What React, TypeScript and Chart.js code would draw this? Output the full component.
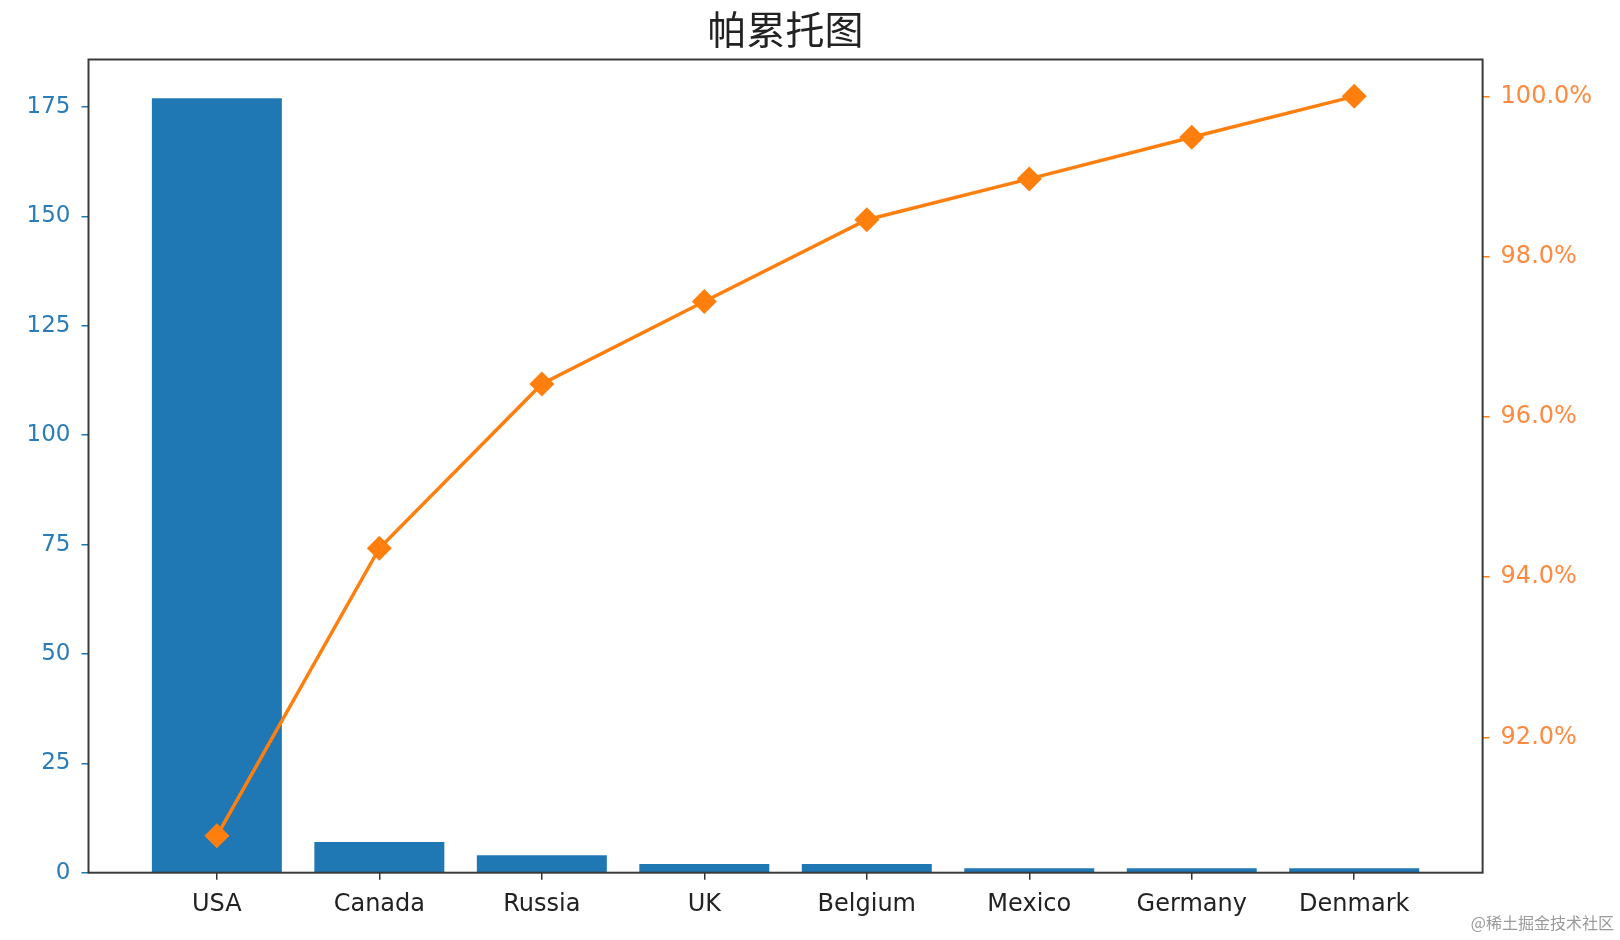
import React, { useEffect, useRef } from "react";
import { Chart, registerables } from "chart.js";

Chart.register(...registerables);

const title = "帕累托图";
const categories = ["USA", "Canada", "Russia", "UK", "Belgium", "Mexico", "Germany", "Denmark"];
const counts = [177, 7, 4, 2, 2, 1, 1, 1];
const cumulativePct = [90.77, 94.36, 96.41, 97.44, 98.46, 98.97, 99.49, 100.0];
const leftTicks = [0, 25, 50, 75, 100, 125, 150, 175];
const rightTicks = [92, 94, 96, 98, 100];

const BLUE = "#1f77b4";
const ORANGE = "#ff7f0e";
const FONT = "'DejaVu Sans', sans-serif";

export default function App() {
  const ref = useRef<HTMLCanvasElement>(null);

  useEffect(() => {
    if (!ref.current) return;
    const framePlugin = {
      id: "frame",
      afterDraw(chart: any) {
        const { ctx, chartArea: a } = chart;
        ctx.save();
        ctx.strokeStyle = "#3a3a3a";
        ctx.lineWidth = 2;
        ctx.strokeRect(a.left, a.top, a.right - a.left, a.bottom - a.top);
        ctx.restore();
      },
    };

    const chart = new Chart(ref.current, {
      type: "bar",
      data: {
        datasets: [
          {
            type: "line",
            label: "累计百分比",
            data: categories.map((_, i) => ({ x: i, y: cumulativePct[i] })),
            yAxisID: "y1",
            xAxisID: "x",
            borderColor: ORANGE,
            backgroundColor: ORANGE,
            borderWidth: 3.5,
            pointStyle: "rectRot",
            pointRadius: 12.5,
            pointHoverRadius: 12.5,
            pointBackgroundColor: ORANGE,
            pointBorderWidth: 0,
            tension: 0,
            order: 0,
          } as any,
          {
            type: "bar",
            label: "数量",
            data: categories.map((_, i) => ({ x: i, y: counts[i] })),
            yAxisID: "y",
            xAxisID: "x",
            backgroundColor: BLUE,
            borderWidth: 0,
            categoryPercentage: 1,
            barPercentage: 0.8,
            order: 1,
          } as any,
        ],
      },
      options: {
        animation: false,
        responsive: true,
        maintainAspectRatio: false,
        layout: { padding: 0 },
        plugins: {
          legend: { display: false },
          tooltip: { enabled: false },
          title: {
            display: true,
            fullSize: false,
            text: title,
            color: "#222",
            font: { family: "'Noto Sans CJK SC', sans-serif", size: 39, weight: "normal" as any, lineHeight: 1.2 },
            padding: { top: 6, bottom: 6.7 },
          },
        },
        scales: {
          x: {
            type: "linear",
            offset: false,
            min: -0.79,
            max: 7.79,
            afterBuildTicks: (scale: any) => {
              scale.ticks = categories.map((_, i) => ({ value: i }));
            },
            afterFit: (scale: any) => {
              scale.height = 67.3;
            },
            ticks: {
              autoSkip: false,
              maxRotation: 0,
              color: "#222",
              font: { family: FONT, size: 24 },
              padding: 11,
              callback: (v: any) => categories[Math.round(Number(v))] ?? "",
            },
            grid: {
              display: true,
              offset: false,
              drawOnChartArea: false,
              drawTicks: true,
              tickLength: 7,
              tickColor: "#333",
              lineWidth: 1.5,
            },
            border: { display: false },
          },
          y: {
            type: "linear",
            position: "left",
            min: 0,
            max: 185.85,
            afterBuildTicks: (scale: any) => {
              scale.ticks = leftTicks.map((v) => ({ value: v }));
            },
            afterFit: (scale: any) => {
              scale.width = 88.5;
            },
            ticks: {
              color: "#2a7cb8",
              font: { family: FONT, size: 23 },
              padding: 11,
              callback: (v: any) => String(v),
            },
            grid: { display: true, drawOnChartArea: false, drawTicks: true, tickLength: 7, tickColor: BLUE, lineWidth: 1.5 },
            border: { display: false },
          },
          y1: {
            type: "linear",
            position: "right",
            min: 90.31,
            max: 100.46,
            afterBuildTicks: (scale: any) => {
              scale.ticks = rightTicks.map((v) => ({ value: v }));
            },
            afterFit: (scale: any) => {
              scale.width = 137.4;
            },
            ticks: {
              color: "#fd8a3e",
              font: { family: FONT, size: 24 },
              padding: 11,
              callback: (v: any) => Number(v).toFixed(1) + "%",
            },
            grid: { display: true, drawOnChartArea: false, drawTicks: true, tickLength: 7, tickColor: ORANGE, lineWidth: 1.5 },
            border: { display: false },
          },
        },
      },
      plugins: [framePlugin],
    });

    return () => chart.destroy();
  }, []);

  return (
    <div style={{ position: "fixed", left: 0, top: 0, width: 1620, height: 940, background: "#fff" }}>
      <canvas ref={ref} />
      <span
        style={{
          position: "absolute",
          right: 6,
          bottom: 6,
          fontFamily: "'Noto Sans CJK SC', sans-serif",
          fontSize: 16,
          color: "#9a9a9a",
        }}
      >
        @稀土掘金技术社区
      </span>
    </div>
  );
}
